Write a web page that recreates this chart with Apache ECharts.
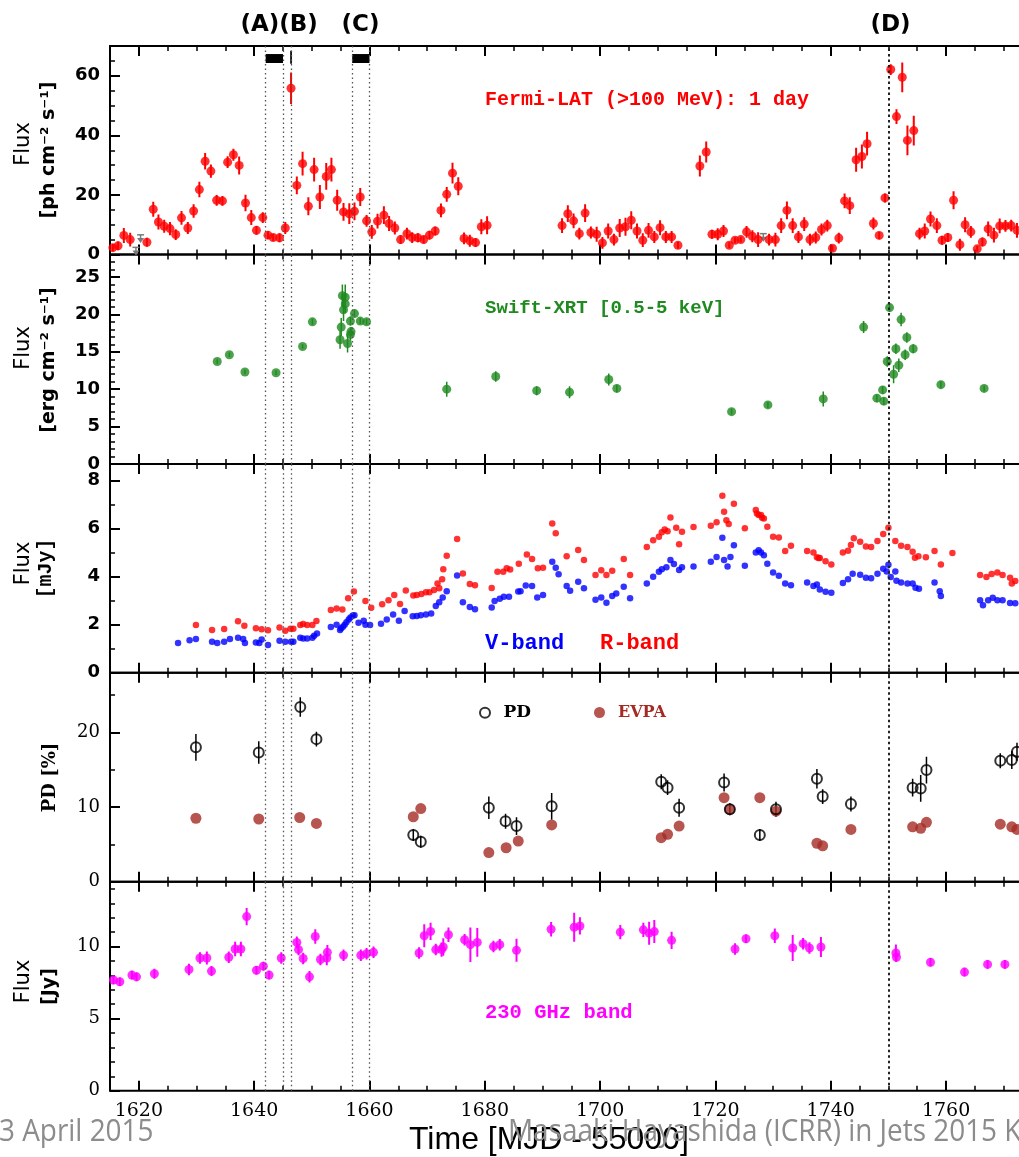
<!DOCTYPE html>
<html><head><meta charset="utf-8">
<script src="https://cdn.jsdelivr.net/npm/echarts@6/dist/echarts.min.js"></script>
<style>html,body{margin:0;padding:0;background:#fff;overflow:hidden}#c{width:1019px;height:1157px}</style>
</head><body><div id="c"></div><script>
// ---------------- DATA ----------------
const xTickLabels = [1620,1640,1660,1680,1700,1720,1740,1760];
const flareLines = [1642, 1645, 1646.4, 1657, 1660];
const mainFlare = 1750;
const periods = [[1642,1645],[1646.25,1646.55],[1657,1660]];

// Fermi-LAT daily flux [x, flux, err]
const fermi = [[1615.5,2.3,1.2],[1616.4,2.9,1.5],[1617.4,6.4,2.5],[1618.5,5.0,2.3],[1621.4,4.1,1.5],[1622.5,15.2,2.5],[1623.4,10.9,2.5],[1624.4,9.5,2.2],[1625.4,8.7,2.2],[1626.4,6.7,1.8],[1627.4,12.3,2.3],[1628.5,8.9,2],[1629.5,14.6,2.3],[1630.5,21.8,2.6],[1631.5,31.3,2.8],[1632.5,28.0,2.2],[1633.5,18.2,1.8],[1634.5,18.0,1.6],[1635.4,31.0,2],[1636.4,33.5,2],[1637.4,29.9,3],[1638.5,17.3,2.8],[1639.5,12.4,2.5],[1640.4,8.1,1.5],[1641.5,12.4,1.8],[1642.4,6.5,1.3],[1643.3,5.7,1.2],[1644.4,5.6,1.5],[1645.4,8.9,2],[1646.4,55.8,5.3],[1647.4,23.2,3],[1648.4,30.5,4],[1649.4,16.2,3],[1650.4,28.5,4],[1651.4,19.3,4],[1652.5,26.2,4.5],[1653.4,28.5,4],[1654.4,18.2,3.5],[1655.5,14.3,3],[1656.5,13.7,3.5],[1657.4,14.5,3],[1658.4,19.3,3],[1659.5,11.3,2],[1660.4,7.6,2.3],[1661.4,11.2,2.5],[1662.5,13.2,3],[1663.4,10.4,2.5],[1664.4,8.9,2.2],[1665.4,5.0,1.5],[1666.5,7.0,2],[1667.4,5.7,1.8],[1668.4,5.6,1.5],[1669.4,5.0,1.3],[1670.4,6.5,1.5],[1671.4,7.9,1.5],[1672.4,14.8,2.3],[1673.4,20.2,2.5],[1674.4,27.3,3.5],[1675.4,22.9,3],[1676.4,5.4,2],[1677.4,4.6,2],[1678.4,4.0,1.5],[1679.4,9.3,2.5],[1680.4,9.8,3],
[1693.4,9.7,2.5],[1694.4,13.7,2.8],[1695.4,11.3,2.5],[1696.4,7.0,2],[1697.4,13.9,3],[1698.4,7.4,2],[1699.4,6.8,2.5],[1700.4,3.9,2],[1701.4,7.9,2.5],[1702.4,5.0,2],[1703.4,8.9,3],[1704.4,9.3,3],[1705.4,11.5,3],[1706.4,7.9,2.5],[1707.4,4.8,2.3],[1708.4,8.1,2.5],[1709.4,5.9,2],[1710.4,9.0,2.5],[1711.4,5.9,2],[1712.4,5.9,2],[1713.5,3.1,1.2],[1717.3,29.7,3.5],[1718.4,34.4,3.5],[1719.4,6.8,1.5],[1720.4,6.8,2],[1721.4,7.9,2],[1722.4,3.1,1],[1723.4,4.8,1],[1724.4,5.0,1],[1725.4,7.6,2],[1726.4,6.1,2],[1727.4,5.0,2.5],[1729.3,5.0,2],[1730.4,5.0,2.3],[1731.4,9.7,2.5],[1732.4,14.8,3],[1733.4,9.7,2.5],[1734.4,5.9,2],[1735.4,10.2,2.3],[1736.4,5.0,2],[1737.4,5.7,2],[1738.4,8.4,2],[1739.4,9.7,2],[1740.3,2.1,1],[1741.4,5.5,1.8],[1742.4,18.0,2.5],[1743.3,16.4,2.8],[1744.4,31.8,4],[1745.4,32.9,4],[1746.3,37.2,4],[1747.4,10.4,2],[1748.4,6.4,1.2],[1749.4,19.0,1.5],[1750.4,62.1,1.8],[1751.4,46.3,2.5],[1752.4,59.5,5],[1753.3,38.3,5],[1754.4,41.6,5],[1755.4,7.0,2],[1756.3,7.9,2.5],[1757.3,11.9,2.5],[1758.4,9.7,2.5],[1759.3,4.8,1.5],[1760.3,5.7,1.5],[1761.3,18.2,3],[1762.4,3.3,2],[1763.3,10.0,2.5],[1764.3,7.6,2],[1765.4,1.9,1],[1766.3,4.2,1.5],[1767.3,8.6,2.5],[1768.3,6.5,2.5],[1769.3,9.6,2.5],[1770.3,9.6,2],[1771.3,9.7,2],[1772.3,8.1,2.5]];
// Fermi upper limits [x, flux]
const fermiUL = [[1619.5,2.4],[1620.3,6.6],[1728.3,7.0]];

// Swift-XRT [x, flux, err]
const swift = [[1633.6,13.7,0.3],[1635.7,14.6,0.3],[1638.4,12.3,0.3],[1643.8,12.2,0.3],[1648.4,15.7,0.3],[1650.1,19.0,0.4],[1655.3,22.5,1.5],[1655.8,22.3,1.7],[1655.8,21.4,1.2],[1655.5,20.6,1.5],[1655.1,18.3,1.2],[1654.9,16.6,1.2],[1656.2,16.1,1.2],[1656.7,17.3,0.8],[1656.8,17.7,0.6],[1656.7,19.1,0.6],[1657.4,20.1,0.5],[1658.4,19.1,0.4],[1659.5,19.0,0.4],[1673.4,10.0,1.0],[1681.9,11.7,0.7],[1689.0,9.8,0.6],[1694.7,9.6,0.8],[1701.5,11.3,0.8],[1702.9,10.1,0.5],[1722.8,7.0,0.4],[1729.1,7.9,0.4],[1738.7,8.7,1.0],[1745.7,18.3,0.8],[1748.0,8.8,0.5],[1749.0,9.9,0.5],[1749.2,8.4,0.5],[1749.8,13.7,0.7],[1750.2,20.9,0.6],[1750.9,12.0,1.2],[1751.3,15.4,0.7],[1751.8,13.2,0.9],[1752.2,19.3,0.9],[1752.9,14.6,0.7],[1753.2,16.9,0.7],[1754.3,15.4,0.6],[1759.1,10.6,0.5],[1766.6,10.1,0.4]];

// Optical R-band and V-band [x, mJy]
const rBand = [[1629.9,1.99],[1632.7,1.78],[1634.8,1.82],[1637.2,2.14],[1638.3,1.96],[1640.3,1.85],[1641.3,1.81],[1642.4,1.77],[1644.4,1.88],[1645.4,1.75],[1646.3,1.83],[1646.8,1.83],[1648.0,1.99],[1648.5,2.03],[1649.2,1.99],[1650.1,1.99],[1650.8,2.15],[1653.3,2.61],[1654.3,2.68],[1655.3,2.63],[1656.3,3.10],[1657.3,3.38],[1659.3,2.99],[1660.3,2.71],[1662.2,2.85],[1663.3,3.02],[1664.3,3.24],[1665.3,2.86],[1666.3,3.43],[1667.6,3.22],[1668.2,3.24],[1669.0,3.28],[1669.8,3.35],[1670.4,3.35],[1671.2,3.45],[1671.8,3.72],[1672.1,3.52],[1672.6,3.90],[1672.8,4.31],[1673.4,4.88],[1675.2,5.57],[1676.2,4.14],[1677.4,3.70],[1678.3,3.65],[1681.2,3.53],[1682.2,4.21],[1683.2,4.21],[1683.8,4.35],[1684.4,4.30],[1685.9,4.54],[1687.3,4.93],[1688.2,4.74],[1689.2,4.35],[1690.1,4.38],[1691.7,6.22],[1692.3,5.81],[1694.2,4.85],[1696.2,5.11],[1697.2,4.70],[1699.2,4.07],[1700.2,4.27],[1701.1,4.07],[1702.1,4.25],[1704.1,4.74],[1705.2,4.07],[1708.1,5.24],[1709.2,5.52],[1710.2,5.67],[1710.7,5.85],[1711.2,5.97],[1711.7,5.90],[1712.2,6.47],[1713.2,6.04],[1713.7,5.35],[1714.2,5.88],[1716.2,6.07],[1719.2,6.13],[1720.2,6.27],[1721.2,7.38],[1721.5,6.71],[1721.9,6.36],[1722.3,6.20],[1723.2,7.04],[1725.1,6.02],[1727.0,6.78],[1727.2,6.64],[1727.5,6.57],[1727.9,6.57],[1728.1,6.46],[1728.4,6.43],[1729.0,6.08],[1730.0,5.67],[1731.0,5.64],[1732.1,5.07],[1733.1,5.29],[1735.9,5.07],[1737.0,5.01],[1737.6,4.81],[1737.9,4.78],[1738.1,4.78],[1739.1,4.65],[1740.1,4.51],[1742.1,5.01],[1743.0,5.08],[1743.5,5.32],[1744.0,5.60],[1745.1,5.46],[1746.1,5.26],[1747.0,5.24],[1748.1,5.49],[1749.1,5.78],[1750.0,6.04],[1751.2,5.49],[1752.2,5.29],[1753.3,5.24],[1754.2,5.04],[1754.6,4.79],[1755.2,4.85],[1756.5,4.81],[1758.0,5.07],[1759.1,4.51],[1761.1,4.99],[1765.9,4.07],[1767.0,3.99],[1767.9,4.11],[1768.9,4.18],[1769.8,4.07],[1771.1,3.96],[1771.4,3.72],[1772.0,3.82]];
const vBand = [[1626.8,1.24],[1628.8,1.35],[1629.9,1.40],[1632.7,1.29],[1633.6,1.24],[1634.8,1.29],[1635.8,1.40],[1637.2,1.46],[1638.1,1.40],[1638.4,1.24],[1640.3,1.26],[1640.9,1.24],[1641.3,1.38],[1642.4,1.15],[1644.4,1.33],[1645.4,1.29],[1646.4,1.29],[1646.8,1.29],[1648.0,1.46],[1648.5,1.43],[1649.2,1.43],[1650.1,1.46],[1650.4,1.54],[1650.9,1.63],[1653.3,1.90],[1654.3,2.00],[1654.9,1.78],[1655.1,1.85],[1655.4,1.92],[1655.7,2.00],[1656.0,2.10],[1656.4,2.22],[1656.7,2.30],[1657.1,2.38],[1657.4,2.40],[1658.1,2.08],[1659.0,2.17],[1659.3,2.00],[1660.1,1.99],[1662.0,2.04],[1663.0,2.22],[1664.1,2.43],[1665.1,2.17],[1666.1,2.57],[1667.5,2.35],[1668.2,2.36],[1668.9,2.40],[1669.8,2.43],[1670.7,2.47],[1671.5,2.78],[1672.1,2.94],[1672.7,3.13],[1673.4,3.40],[1675.2,4.05],[1676.2,2.94],[1677.4,2.74],[1678.3,2.65],[1681.2,2.72],[1681.7,2.99],[1682.6,3.08],[1683.3,3.17],[1684.2,3.17],[1685.8,3.38],[1686.2,3.40],[1687.1,3.63],[1688.2,3.61],[1689.1,3.14],[1690.1,3.24],[1691.7,4.63],[1692.3,4.38],[1692.8,4.10],[1694.2,3.61],[1694.8,3.42],[1696.2,3.79],[1697.2,3.52],[1699.2,3.04],[1700.2,3.14],[1701.1,2.92],[1702.1,3.20],[1702.8,3.30],[1704.1,3.58],[1705.2,3.10],[1708.1,3.72],[1709.2,4.00],[1710.2,4.21],[1710.7,4.31],[1711.5,4.40],[1712.2,4.70],[1712.8,4.53],[1713.7,4.28],[1714.2,4.40],[1716.2,4.43],[1719.2,4.63],[1720.2,4.82],[1721.2,5.63],[1721.5,4.70],[1722.1,4.43],[1722.6,4.82],[1723.2,5.31],[1725.1,4.46],[1727.0,5.01],[1727.5,5.10],[1727.9,5.01],[1728.4,4.90],[1729.0,4.54],[1730.0,4.18],[1731.0,4.04],[1732.1,3.72],[1733.1,3.65],[1735.9,3.76],[1737.0,3.61],[1737.6,3.68],[1738.1,3.47],[1739.1,3.37],[1740.1,3.33],[1742.1,3.74],[1743.0,3.90],[1743.8,4.13],[1745.1,4.08],[1746.1,3.96],[1747.0,3.94],[1748.1,4.13],[1749.1,4.33],[1749.7,4.22],[1750.0,4.50],[1750.4,3.99],[1751.2,4.22],[1751.4,3.83],[1752.2,3.76],[1753.3,3.72],[1754.2,3.72],[1754.7,3.54],[1755.3,3.50],[1758.0,3.76],[1758.9,3.40],[1759.1,3.20],[1765.9,3.02],[1766.4,2.81],[1767.3,3.02],[1768.1,3.12],[1768.9,3.02],[1769.8,3.02],[1771.1,2.91],[1772.0,2.89]];

// Polarization: PD [x, %, err], EVPA [x, value]
const pd = [[1629.9,18.0,1.8],[1640.8,17.3,1.5],[1648.0,23.4,1.3],[1650.8,19.1,1.0],[1667.6,6.25,0.8],[1668.9,5.35,0.8],[1680.7,9.9,1.5],[1683.6,8.1,1.0],[1685.5,7.45,1.2],[1691.6,10.1,1.8],[1710.6,13.4,1.0],[1711.7,12.6,1.0],[1713.7,9.9,1.2],[1721.5,13.3,1.2],[1722.5,9.7,0.8],[1727.7,6.25,0.8],[1730.5,9.7,1.0],[1737.6,13.8,1.3],[1738.6,11.4,1.0],[1743.5,10.4,1.0],[1754.2,12.6,1.2],[1755.6,12.5,1.8],[1756.6,14.95,1.8],[1769.4,16.2,1.0],[1771.4,16.3,1.2],[1772.3,17.4,1.2]];
const evpa = [[1629.9,8.5],[1640.8,8.4],[1647.9,8.6],[1650.8,7.8],[1667.6,8.7],[1668.9,9.8],[1680.7,3.9],[1683.7,4.55],[1685.8,5.45],[1691.6,7.6],[1710.6,5.9],[1711.7,6.35],[1713.7,7.45],[1721.5,11.25],[1722.5,9.7],[1727.7,11.25],[1730.5,9.45],[1737.6,5.15],[1738.6,4.8],[1743.5,7.0],[1754.2,7.35],[1755.6,7.15],[1756.6,7.95],[1769.4,7.7],[1771.4,7.35],[1772.3,7.0]];

// 230 GHz [x, Jy, err]
const mm230 = [[1615.6,7.68,0.3],[1616.7,7.56,0.3],[1618.8,8.02,0.3],[1619.6,7.9,0.3],[1622.7,8.11,0.35],[1628.7,8.41,0.4],[1630.6,9.21,0.4],[1631.8,9.21,0.45],[1632.6,8.3,0.35],[1635.6,9.26,0.4],[1636.7,9.83,0.5],[1637.7,9.83,0.5],[1638.7,12.08,0.6],[1640.4,8.36,0.3],[1641.6,8.64,0.3],[1642.6,8.02,0.3],[1644.7,9.21,0.4],[1647.4,10.29,0.4],[1647.7,9.79,0.4],[1648.5,9.17,0.4],[1649.6,7.9,0.4],[1650.6,10.7,0.5],[1651.5,9.1,0.4],[1652.6,9.21,0.5],[1652.7,9.6,0.5],[1655.5,9.4,0.4],[1658.5,9.4,0.4],[1659.5,9.5,0.4],[1660.7,9.6,0.4],[1668.6,9.55,0.4],[1669.5,10.75,0.8],[1670.6,11.05,0.6],[1671.5,9.79,0.4],[1672.5,9.79,0.5],[1672.8,9.97,0.6],[1673.7,10.82,0.5],[1676.5,10.47,0.4],[1677.5,10.13,1.2],[1678.7,10.29,1.0],[1681.5,10.0,0.4],[1682.6,10.13,0.4],[1685.5,9.74,0.8],[1691.5,11.2,0.5],[1695.5,11.34,1.0],[1696.5,11.43,0.6],[1703.5,11.0,0.5],[1707.5,11.16,0.5],[1708.5,10.93,0.8],[1709.4,11.04,0.8],[1712.4,10.43,0.6],[1723.4,9.83,0.4],[1725.3,10.54,0.3],[1730.3,10.75,0.5],[1733.4,9.9,0.9],[1735.2,10.2,0.4],[1736.3,9.9,0.4],[1738.3,9.97,0.7],[1751.3,9.55,0.6],[1751.4,9.26,0.3],[1757.3,8.91,0.3],[1763.2,8.23,0.3],[1767.2,8.76,0.3],[1770.2,8.76,0.3]];

// Tick values
const yTicksFermi = [0,20,40,60], yTicksXRT = [0,5,10,15,20,25], yTicksOpt = [0,2,4,6,8], yTicksPD = [0,10,20], yTicksMM = [0,5,10];

// ---------------- LAYOUT ----------------
const X0 = 1615, X1 = 1780, L = 110, PXD = 5.766, W = (X1 - X0) * PXD;
function range(a,b,s){const r=[];for(let v=a;v<=b+1e-9;v+=s)r.push(+v.toFixed(4));return r;}
const SANS='DejaVu Sans', SERIF='DejaVu Serif', MONO='Liberation Mono';
const panels = [
  {top:46,    h:208.5, max:70,   labels:yTicksFermi, minor:range(0,65,5),  font:SANS,  weight:'bold', size:18},
  {top:254.5, h:209.5, max:28,   labels:yTicksXRT,   minor:range(0,27,1),  font:SANS,  weight:'bold', size:18},
  {top:464,   h:208.7, max:8.7,  labels:yTicksOpt,   minor:range(0,8,1),   font:SANS,  weight:'bold', size:18},
  {top:672.7, h:209,   max:28,   labels:yTicksPD,    minor:range(0,25,5),  font:SERIF, weight:'normal', size:18},
  {top:881.7, h:209,   max:14.5, labels:yTicksMM,    minor:range(0,14,1),  font:SERIF, weight:'normal', size:18}
];
const xMinor = range(1615,1780,5), xMajor = range(1620,1780,20);

const grid = panels.map(p=>({left:L, top:p.top, width:W, height:p.h, show:true, borderColor:'#000', borderWidth:2,
  backgroundColor:'rgba(0,0,0,0)', containLabel:false, outerBoundsMode:'none'}));

const xAxis = [], yAxis = [];
panels.forEach((p,g)=>{
  const base = ()=>({type:'value', gridIndex:g, min:X0, max:X1, splitLine:{show:false}, axisLine:{show:false,onZero:false}});
  const minorT = {inside:true, length:5, customValues:xMinor, lineStyle:{color:'#000', width:1.5}};
  const majorT = {inside:true, length:10, customValues:xMajor, lineStyle:{color:'#000', width:2}};
  xAxis.push(Object.assign(base(), {position:'bottom', axisTick:minorT, axisLabel:{show:false}}));
  xAxis.push(Object.assign(base(), {position:'bottom', axisTick:majorT,
    axisLabel: g===4 ? {show:true, customValues:xTickLabels, formatter:v=>String(v), margin:11, fontFamily:SERIF, fontSize:19, color:'#000'} : {show:false}}));
  xAxis.push(Object.assign(base(), {position:'top', axisTick:minorT, axisLabel:{show:false}}));
  xAxis.push(Object.assign(base(), {position:'top', axisTick:majorT, axisLabel:{show:false}}));
  const yb = ()=>({type:'value', gridIndex:g, min:0, max:p.max, position:'left', splitLine:{show:false}, axisLine:{show:false,onZero:false}});
  yAxis.push(Object.assign(yb(), {axisTick:{inside:true, length:10, customValues:p.labels, lineStyle:{color:'#000', width:2}},
    axisLabel:{customValues:p.labels, formatter:v=>String(v), margin:10, fontFamily:p.font, fontWeight:p.weight, fontSize:p.size, color:'#000'}}));
  yAxis.push(Object.assign(yb(), {axisTick:{inside:true, length:5, customValues:p.minor, lineStyle:{color:'#000', width:1.5}}, axisLabel:{show:false}}));
});

const markLine = {silent:true, symbol:['none','none'], label:{show:false}, animation:false,
  data: flareLines.map(v=>({xAxis:v, lineStyle:{color:'#555', type:[1.5,3], width:1.3}}))
        .concat([{xAxis:mainFlare, lineStyle:{color:'#222', type:[2.5,3], width:2}}])};

function errSeries(data, g, color, lw){
  return {type:'custom', xAxisIndex:4*g, yAxisIndex:2*g, data, silent:true, clip:true, z:2, encode:{x:0,y:1},
    renderItem:(params, api)=>{
      const x=api.value(0), y=api.value(1), e=api.value(2);
      const a=api.coord([x,y-e]), b=api.coord([x,y+e]);
      return {type:'line', shape:{x1:a[0],y1:a[1],x2:b[0],y2:b[1]}, style:{stroke:color, lineWidth:lw}};
    }};
}
function scat(name, data, g, size, style, extra){
  return Object.assign({type:'scatter', name, xAxisIndex:4*g, yAxisIndex:2*g, data:data.map(d=>[d[0],d[1]]),
    symbol:'circle', symbolSize:size, itemStyle:style, silent:true, z:3, animation:false}, extra||{});
}

const RED='#ff0000', GREEN='#1f8a1f', BLUE='#0000ff', BROWN='#a52a24', MAG='#ff00ff', GRAY='#7a7a7a';
const series = [
  errSeries(fermi, 0, RED, 2),
  scat('Fermi', fermi, 0, 9, {color:RED}, {markLine,
    markArea:{silent:true, itemStyle:{color:'#000'}, data:[
      [{xAxis:periods[0][0], yAxis:64.3},{xAxis:periods[0][1], yAxis:67.3}],
      [{xAxis:periods[1][0], yAxis:64.0},{xAxis:periods[1][1], yAxis:68.4}],
      [{xAxis:periods[2][0], yAxis:64.3},{xAxis:periods[2][1], yAxis:67.3}]]}}),
  {type:'custom', xAxisIndex:0, yAxisIndex:0, data:fermiUL, silent:true, z:3, encode:{x:0,y:1},
    renderItem:(params, api)=>{
      const x=api.value(0), y=api.value(1);
      const t=api.coord([x,y]), b=api.coord([x,y-2.4]);
      return {type:'group', children:[
        {type:'line', shape:{x1:t[0]-3.5,y1:t[1],x2:t[0]+3.5,y2:t[1]}, style:{stroke:GRAY, lineWidth:1.5}},
        {type:'line', shape:{x1:t[0],y1:t[1],x2:b[0],y2:b[1]-2}, style:{stroke:GRAY, lineWidth:1.5}},
        {type:'polygon', shape:{points:[[b[0]-3.5,b[1]-4],[b[0]+3.5,b[1]-4],[b[0],b[1]+1]]}, style:{fill:GRAY}}]};
    }},
  errSeries(swift, 1, GREEN, 1.5),
  scat('Swift', swift, 1, 9, {color:GREEN}, {markLine}),
  scat('V', vBand, 2, 6.5, {color:BLUE}),
  scat('R', rBand, 2, 6.5, {color:RED}, {markLine}),
  scat('EVPA', evpa, 3, 11, {color:BROWN}, {markLine}),
  errSeries(pd, 3, '#000', 1.5),
  scat('PD', pd, 3, 10, {color:'rgba(0,0,0,0)', borderColor:'#000', borderWidth:2}, {z:4}),
  errSeries(mm230, 4, MAG, 2),
  scat('230GHz', mm230, 4, 9, {color:MAG}, {markLine})
];

function txt(text, x, y, o){
  return Object.assign({type:'text', x, y, silent:true, z:10, style:Object.assign({text, fill:'#000',
    align:'left', verticalAlign:'middle', textAlign:'left', textVerticalAlign:'middle'}, o.style)}, o.el||{});
}
function vtxt(text, x, y, font, size, weight){
  return {type:'text', x, y, rotation:Math.PI/2, silent:true, z:10, style:{text, fill:'#000', fontFamily:font, fontSize:size, fontWeight:weight||'normal',
    align:'center', verticalAlign:'middle', textAlign:'center', textVerticalAlign:'middle'}};
}
const graphic = [
  txt('(A)(B)', 240.5, 25, {style:{fontFamily:SANS, fontWeight:'bold', fontSize:23}}),
  txt('(C)', 341.5, 25, {style:{fontFamily:SANS, fontWeight:'bold', fontSize:23}}),
  txt('(D)', 870.5, 25, {style:{fontFamily:SANS, fontWeight:'bold', fontSize:23}}),
  txt('Fermi-LAT (>100 MeV): 1 day', 485, 100, {style:{fontFamily:MONO, fontWeight:'bold', fontSize:20, fill:RED}}),
  txt('Swift-XRT [0.5-5 keV]', 485, 308.5, {style:{fontFamily:MONO, fontWeight:'bold', fontSize:19, fill:GREEN}}),
  txt('V-band', 485, 643.5, {style:{fontFamily:MONO, fontWeight:'bold', fontSize:22, fill:BLUE}}),
  txt('R-band', 600, 643.5, {style:{fontFamily:MONO, fontWeight:'bold', fontSize:22, fill:RED}}),
  txt('230 GHz band', 485, 1013, {style:{fontFamily:MONO, fontWeight:'bold', fontSize:20.5, fill:MAG}}),
  vtxt('Flux', 24, 144, SANS, 21),
  vtxt('[ph cm\u207B\u00B2 s\u207B\u00B9]', 49, 150, SANS, 19, 'bold'),
  vtxt('Flux', 24, 348, SANS, 21),
  vtxt('[erg cm\u207B\u00B2 s\u207B\u00B9]', 49, 360, SANS, 19, 'bold'),
  vtxt('Flux', 24, 563.5, SANS, 21),
  vtxt('[mJy]', 46, 568.5, MONO, 20, 'bold'),
  vtxt('PD [%]', 50, 777.5, SERIF, 18, 'bold'),
  vtxt('Flux', 24, 981.5, SANS, 21),
  vtxt('[Jy]', 50, 986.5, SANS, 19, 'bold'),
  txt('Time [MJD - 55000]', 409, 1140, {style:{fontFamily:'Liberation Sans', fontSize:32}}),
  txt('3 April 2015', -1, 1132, {style:{fontFamily:'Open Sans', fontSize:31, fill:'#8c8c8c'}, el:{scaleX:0.9, z:20}}),
  txt('Masaaki Hayashida (ICRR) in Jets 2015 K', 508, 1132, {style:{fontFamily:'Open Sans', fontSize:31, fill:'#8c8c8c'}, el:{scaleX:0.9, z:20}})
];

const legend = [
  {data:[{name:'PD', icon:'circle', itemStyle:{color:'rgba(0,0,0,0)', borderColor:'#000', borderWidth:2}}],
   left:479, top:704.3, itemWidth:10, itemHeight:10, padding:0, selectedMode:false, formatter:n=>'\u2002'+n,
   textStyle:{fontFamily:SERIF, fontWeight:'bold', fontSize:17, color:'#000'}},
  {data:[{name:'EVPA', icon:'circle', itemStyle:{color:BROWN}}],
   left:594, top:704.5, itemWidth:11, itemHeight:11, padding:0, selectedMode:false, formatter:n=>'\u2002'+n,
   textStyle:{fontFamily:SERIF, fontWeight:'bold', fontSize:16, color:BROWN}}
];

const chart = echarts.init(document.getElementById('c'), null, {renderer:'canvas'});
chart.setOption({animation:false, backgroundColor:'#fff', grid, xAxis, yAxis, series, graphic, legend});
</script></body></html>
